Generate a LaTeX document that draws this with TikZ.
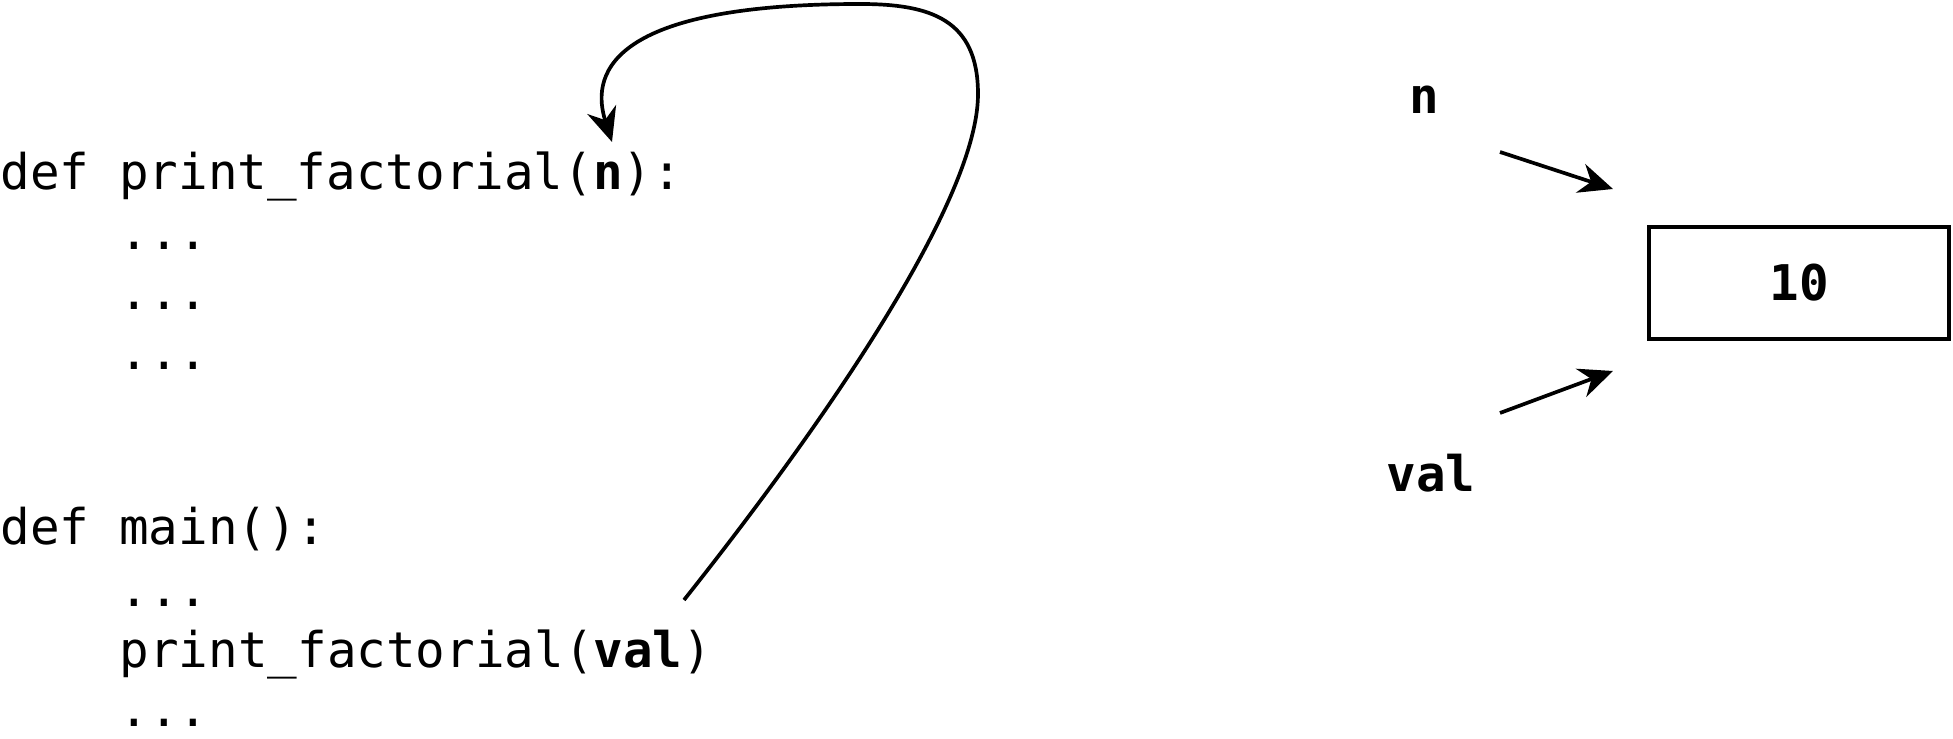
\documentclass[tikz,border=0pt]{standalone}
\usepackage{fontspec}
\setmonofont{DejaVu Sans Mono}
\usetikzlibrary{arrows.meta}
\begin{document}
\begin{tikzpicture}[
	code/.style={anchor=base west, inner sep=0pt, font=\ttfamily\fontsize{14}{17}\selectfont},
	lbl/.style={inner sep=0pt, font=\ttfamily\bfseries\fontsize{14}{17}\selectfont},
	ptr/.style={line width=1.05pt, -{Stealth[length=3.4mm, width=3mm, inset=1.1mm]}}
	]
				\useasboundingbox (0,0) rectangle (19.53,7.39);
				% code
				\node[code] (def1) at (0,5.49) {def print\_factorial(\textbf{n}):};
				\node[code] (dots1) at (1.19,4.89) {...};
				\node[code] (dots2) at (1.19,4.29) {...};
				\node[code] (dots3) at (1.19,3.69) {...};
				\node[code] (def2) at (0,1.94) {def main():};
				\node[code] (dots4) at (1.19,1.32) {...};
				\node[code] (call) at (1.19,0.71) {print\_factorial(\textbf{val})};
				\node[code] (dots5) at (1.19,0.12) {...};
				% names and value
				\node[lbl] (n) at (14.24,6.39) {n};
				\node[lbl] (val) at (14.31,2.66) {val};
				\node[draw, line width=1.05pt, minimum width=3cm, minimum height=1.12cm, lbl] (box) at (17.99,4.56) {10};
				\coordinate (S) at (6.84,1.39);
				\coordinate (R) at (9.78,6.45);
				\coordinate (T) at (8.6,7.35);
				\coordinate (E) at (6.12,5.97);
				\coordinate (N1) at (15.0,5.87);
				\coordinate (N2) at (16.13,5.50);
				\coordinate (V1) at (15.0,3.26);
				\coordinate (V2) at (16.13,3.68);
				\draw[ptr] (S) .. controls (8.0,2.85) and (9.78,5.3) .. (R)
					.. controls (9.78,7.2) and (9.3,7.35) .. (T)
					.. controls (6.0,7.35) and (5.92,6.6) .. (E);
				\draw[ptr] (N1) -- (N2);
				\draw[ptr] (V1) -- (V2);
\end{tikzpicture}
\end{document}
